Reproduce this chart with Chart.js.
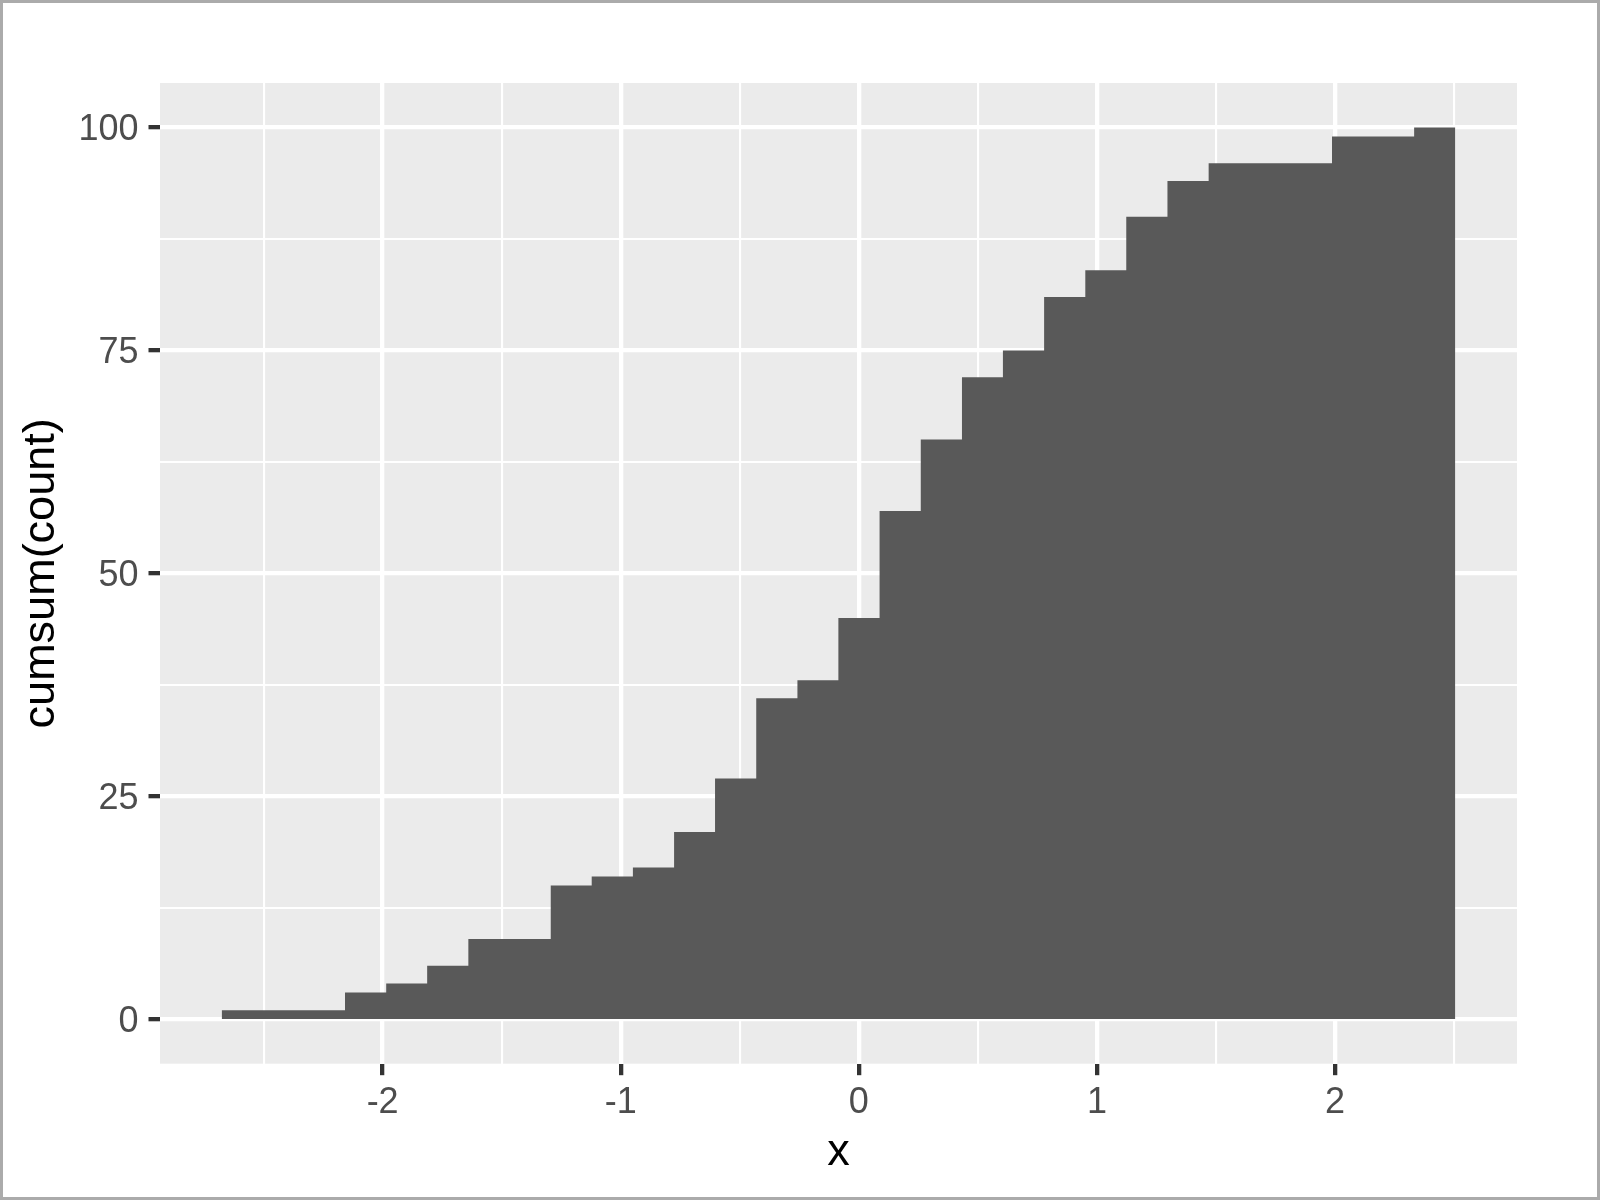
<!DOCTYPE html>
<html>
<head>
<meta charset="utf-8">
<script src="https://cdn.jsdelivr.net/npm/chart.js@4.4.1/dist/chart.umd.min.js"></script>
<style>
  html, body { margin: 0; padding: 0; background: #ffffff; }
  #wrap { width: 1600px; height: 1200px; position: relative; }
  canvas { display: block; }
</style>
</head>
<body>
<div id="wrap"><canvas id="c" width="1600" height="1200" style="width:1600px;height:1200px"></canvas></div>
<script>
// ---- data ----
const binEdges = [-2.676, -2.503, -2.331, -2.158, -1.985, -1.813, -1.640, -1.467, -1.294, -1.122,
                  -0.949, -0.776, -0.604, -0.431, -0.258, -0.086, 0.087, 0.260, 0.433, 0.605,
                  0.778, 0.951, 1.123, 1.296, 1.469, 1.642, 1.814, 1.987, 2.160, 2.332, 2.505];
const cumCounts = [1, 1, 1, 3, 4, 6, 9, 9, 15, 16,
                   17, 21, 27, 36, 38, 45, 57, 65, 72, 75,
                   81, 84, 90, 94, 96, 96, 96, 99, 99, 100];
const xTickValues = [-2.5, -2, -1.5, -1, -0.5, 0, 0.5, 1, 1.5, 2, 2.5];
const xTickLabels = ['', '-2', '', '-1', '', '0', '', '1', '', '2', ''];
const yTickValues = [0, 12.5, 25, 37.5, 50, 62.5, 75, 87.5, 100];
const yTickLabels = ['0', '', '25', '', '50', '', '75', '', '100'];
const xTitle = 'x';
const yTitle = 'cumsum(count)';

// ---- build: each bin drawn as a step from its left edge to the next edge ----
const stepData = binEdges.map((e, i) => ({ x: e, y: cumCounts[Math.min(i, cumCounts.length - 1)] }));

const FONT = '"Liberation Sans", Arial, Helvetica, sans-serif';
const W = 1600, H = 1200;
const PANEL = { left: 160, right: 1517, top: 83, bottom: 1063.7 };
const MAJOR_W = 4.3, MINOR_W = 2.1;

const bgPlugin = {
  id: 'bg',
  beforeDraw(chart) {
    const { ctx, chartArea } = chart;
    ctx.save();
    ctx.fillStyle = '#ffffff';
    ctx.fillRect(0, 0, W, H);
    ctx.fillStyle = '#EBEBEB';
    ctx.fillRect(chartArea.left, chartArea.top, chartArea.right - chartArea.left, chartArea.bottom - chartArea.top);
    ctx.restore();
  },
  afterDraw(chart) {
    const { ctx } = chart;
    ctx.save();
    ctx.strokeStyle = '#ABABAB';
    ctx.lineWidth = 3;
    ctx.strokeRect(1.5, 1.5, W - 3, H - 3);
    ctx.restore();
  }
};

const isMajorX = v => xTickLabels[xTickValues.indexOf(v)] !== '';
const isMajorY = v => yTickLabels[yTickValues.indexOf(v)] !== '';

new Chart(document.getElementById('c'), {
  type: 'line',
  data: {
    datasets: [{
      data: stepData,
      stepped: 'before',
      fill: 'origin',
      backgroundColor: '#595959',
      borderColor: 'rgba(0,0,0,0)',
      borderWidth: 0,
      pointRadius: 0,
      pointHoverRadius: 0,
      tension: 0
    }]
  },
  options: {
    responsive: false,
    devicePixelRatio: 1,
    animation: false,
    events: [],
    layout: { padding: { left: 0, top: PANEL.top, right: W - PANEL.right, bottom: 0 } },
    plugins: { legend: { display: false }, tooltip: { enabled: false } },
    scales: {
      x: {
        type: 'linear',
        min: -2.935,
        max: 2.764,
        offset: false,
        afterBuildTicks: s => { s.ticks = xTickValues.map(v => ({ value: v })); },
        afterFit: s => { s.height = H - PANEL.bottom; },
        ticks: {
          autoSkip: false, maxRotation: 0, minRotation: 0, padding: 5.8,
          color: '#4D4D4D', font: { family: FONT, size: 36 },
          callback: (v) => { const i = xTickValues.indexOf(v); return i >= 0 ? xTickLabels[i] : ''; }
        },
        grid: {
          offset: false,
          color: '#FFFFFF',
          lineWidth: c => (c.tick && isMajorX(c.tick.value)) ? MAJOR_W : MINOR_W,
          tickColor: c => (c.tick && isMajorX(c.tick.value)) ? '#333333' : 'rgba(0,0,0,0)',
          tickLength: 11.5,
          tickWidth: MAJOR_W,
          drawTicks: true
        },
        border: { display: false },
        title: {
          display: true, text: xTitle, color: '#000000',
          font: { family: FONT, size: 45 },
          padding: { top: 0, bottom: 20 }
        }
      },
      y: {
        type: 'linear',
        min: -5,
        max: 105,
        afterBuildTicks: s => { s.ticks = yTickValues.map(v => ({ value: v })); },
        afterFit: s => { s.width = PANEL.left; },
        ticks: {
          autoSkip: false, padding: 10, labelOffset: 2.5,
          color: '#4D4D4D', font: { family: FONT, size: 36 },
          callback: (v) => { const i = yTickValues.indexOf(v); return i >= 0 ? yTickLabels[i] : ''; }
        },
        grid: {
          color: '#FFFFFF',
          lineWidth: c => (c.tick && isMajorY(c.tick.value)) ? MAJOR_W : MINOR_W,
          tickColor: c => (c.tick && isMajorY(c.tick.value)) ? '#333333' : 'rgba(0,0,0,0)',
          tickLength: 11.5,
          tickWidth: MAJOR_W,
          drawTicks: true
        },
        border: { display: false },
        title: {
          display: true, text: yTitle, color: '#000000',
          font: { family: FONT, size: 45 },
          padding: { top: 14.5, bottom: 0 }
        }
      }
    }
  },
  plugins: [bgPlugin]
});
</script>
</body>
</html>
